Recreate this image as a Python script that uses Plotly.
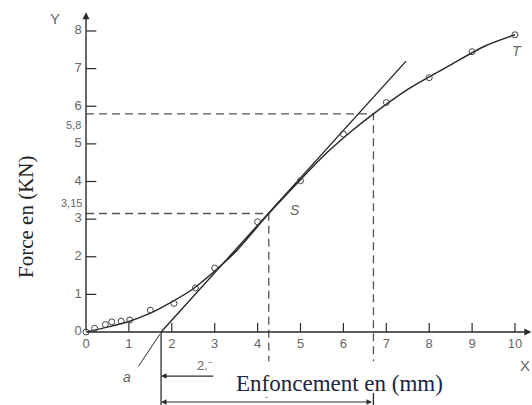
import plotly.graph_objects as go

# ---- data ----
test_x = [0, 0.2, 0.45, 0.6, 0.82, 1.02, 1.5, 2.05, 2.55, 3.0, 4.0, 5.0, 6.0, 7.0, 8.0, 9.0, 10.0]
test_y = [0, 0.1, 0.2, 0.27, 0.29, 0.32, 0.58, 0.76, 1.17, 1.7, 2.93, 4.02, 5.26, 6.1, 6.76, 7.45, 7.9]

curve_x = [0, 0.5, 1.0, 1.5, 2.0, 2.5, 3.0, 3.5, 4.26, 5.0, 5.6, 6.2, 6.7, 7.5, 8.5, 9.3, 10.0]
curve_y = [0, 0.13, 0.28, 0.5, 0.8, 1.15, 1.62, 2.15, 3.15, 4.05, 4.75, 5.35, 5.8, 6.45, 7.1, 7.6, 7.9]

tangent_x = [1.75, 7.46]
tangent_y = [0.0, 7.2]

s_point = (4.26, 3.15)
t_point = (6.7, 5.8)

x_ticks = [1, 2, 3, 4, 5, 6, 7, 8, 9, 10]
y_ticks = [1, 2, 3, 4, 5, 6, 7, 8]
x_tick_labels = ["0", "1", "2", "3", "4", "5", "6", "7", "8", "9", "10"]
y_tick_labels = ["0", "1", "2", "3", "4", "5", "6", "7", "8"]

X_RANGE = [-2.005, 10.396]
Y_RANGE = [-1.94, 8.824]
PX_X = 42.9      # pixels per x unit
PX_Y = 37.625    # pixels per y unit

INK = "#2a2a2a"
GRAY = "#666666"
TICK_FONT = dict(family="Liberation Sans Narrow, Liberation Sans, Arial", size=13, color=GRAY)

fig = go.Figure()

# dashed reference lines
for (px, py) in (s_point, t_point):
    fig.add_trace(go.Scatter(x=[0, px, px], y=[py, py, -0.78], mode="lines",
                             line=dict(color="#555555", width=1.3, dash="8px,5px"),
                             hoverinfo="skip", showlegend=False))

# tangent line
fig.add_trace(go.Scatter(x=tangent_x, y=tangent_y, mode="lines",
                         line=dict(color=INK, width=1.4), hoverinfo="skip", showlegend=False))

# curve
fig.add_trace(go.Scatter(x=curve_x, y=curve_y, mode="lines",
                         line=dict(color=INK, width=1.5, shape="spline", smoothing=0.8),
                         hoverinfo="skip", showlegend=False))

# test points
fig.add_trace(go.Scatter(x=test_x, y=test_y, mode="markers",
                         marker=dict(symbol="circle-open", size=6, color="#444444",
                                     line=dict(width=1, color="#444444")),
                         hoverinfo="skip", showlegend=False))

# axes (manual, starting at origin)
fig.add_annotation(x=10.38, y=0, ax=0, ay=0, xref="x", yref="y", axref="x", ayref="y",
                   text="", showarrow=True, arrowhead=2, arrowsize=1, arrowwidth=1.4, arrowcolor=INK)
fig.add_annotation(x=0, y=8.5, ax=0, ay=0, xref="x", yref="y", axref="x", ayref="y",
                   text="", showarrow=True, arrowhead=2, arrowsize=1, arrowwidth=1.4, arrowcolor=INK)

shapes = []
for t in x_ticks:
    shapes.append(dict(type="line", xref="x", yref="y", x0=t, x1=t, y0=0, y1=0.24,
                       line=dict(color=INK, width=1.2)))
for t in y_ticks:
    shapes.append(dict(type="line", xref="x", yref="y", x0=0, x1=0.24, y0=t, y1=t,
                       line=dict(color=INK, width=1.2)))
# dimension lines below the axis
shapes.append(dict(type="line", xref="x", yref="y", x0=tangent_x[0], x1=tangent_x[0], y0=0, y1=-1.94,
                   line=dict(color=INK, width=1.3)))
shapes.append(dict(type="line", xref="x", yref="y", x0=t_point[0], x1=t_point[0], y0=-1.62, y1=-1.94,
                   line=dict(color=INK, width=1.3)))
fig.update_layout(shapes=shapes)

# dimension arrows
fig.add_annotation(x=tangent_x[0], y=-1.17, ax=3.0, ay=-1.17, xref="x", yref="y", axref="x", ayref="y",
                   text="", showarrow=True, arrowhead=2, arrowsize=0.9, arrowwidth=1.2, arrowcolor=INK)
fig.add_annotation(x=tangent_x[0], y=-1.86, ax=t_point[0], ay=-1.86, xref="x", yref="y", axref="x", ayref="y",
                   text="", showarrow=True, arrowhead=2, startarrowhead=2, arrowside="end+start",
                   arrowsize=0.9, arrowwidth=1.2, arrowcolor=INK)
# leader for "a"
fig.add_annotation(x=tangent_x[0] - 0.03, y=-0.06, ax=1.2, ay=-0.95, xref="x", yref="y", axref="x", ayref="y",
                   text="", showarrow=True, arrowhead=0, arrowwidth=1, arrowcolor=INK)

# tick labels
fig.add_trace(go.Scatter(x=list(range(0, 11)), y=[-0.33] * 11, mode="text", text=x_tick_labels,
                         textposition="middle center", textfont=TICK_FONT,
                         hoverinfo="skip", showlegend=False))
fig.add_trace(go.Scatter(x=[-0.1] * 9, y=list(range(0, 9)), mode="text", text=y_tick_labels,
                         textposition="middle left", textfont=TICK_FONT,
                         hoverinfo="skip", showlegend=False))

def label(x, y, txt, size=13, color=GRAY, family=TICK_FONT["family"], xanchor="center", angle=0):
    fig.add_annotation(x=x, y=y, xref="x", yref="y", text=txt, showarrow=False,
                       xanchor=xanchor, yanchor="middle", textangle=angle,
                       font=dict(family=family, size=size, color=color))

label(-0.06, t_point[1] - 0.3, "5,8", size=11, xanchor="right")
label(-0.04, s_point[1] + 0.28, "3,15", size=11, xanchor="right")
label(-0.72, 8.33, "Y", size=15)
label(X_RANGE[1] - 0.01, -0.88, "X", size=15, xanchor="right")
label(4.88, 3.24, "<i>S</i>", size=14)
label(10.04, 7.48, "<i>T</i>", size=14)
label(0.95, -1.2, "<i>a</i>", size=14)
label(2.77, -0.88, "2.⁻", size=13)
label(4.2, -1.74, "-", size=9)

# axis titles
label(X_RANGE[0] + 26 / PX_X, Y_RANGE[1] - 217 / PX_Y, "Force en (KN)", size=21,
      color="#222222", family="Liberation Serif, Times New Roman", angle=-90)
label(X_RANGE[0] + 339 / PX_X, Y_RANGE[1] - 383 / PX_Y, "Enfoncement en (mm)", size=23,
      color="#1f2440", family="Liberation Serif, Times New Roman")

fig.update_layout(
    width=532, height=405,
    margin=dict(l=0, r=0, t=0, b=0),
    paper_bgcolor="white", plot_bgcolor="white",
    xaxis=dict(range=X_RANGE, visible=False, fixedrange=True),
    yaxis=dict(range=Y_RANGE, visible=False, fixedrange=True),
    showlegend=False,
)

fig.write_html("out.html", config={"displayModeBar": False},
               post_script="document.body.style.margin='0';document.body.style.overflow='hidden';")
